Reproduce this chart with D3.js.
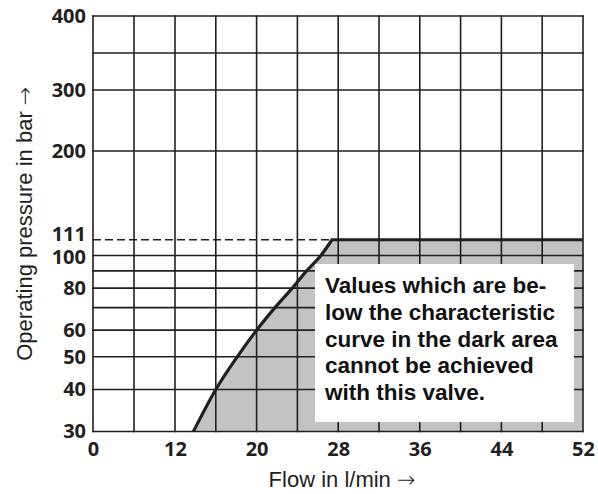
<!DOCTYPE html>
<html><head><meta charset="utf-8">
<script src="https://cdn.jsdelivr.net/npm/d3@7"></script>
<style>
html,body{margin:0;padding:0;background:#fff;}
svg{display:block;}
</style></head><body>
<svg id="chart" width="598" height="494"></svg>
<script>
// ---- data ----
const xTickValues = [0, 12, 20, 28, 36, 44, 52];
const xGridValues = [0, 6, 12, 16, 20, 24, 28, 32, 36, 40, 44, 48, 52];
const yTickValues = [30, 40, 50, 60, 80, 100, 111, 200, 300, 400];
const yGridValues = [30, 40, 50, 60, 70, 80, 90, 100, 200, 300, 350, 400];
const limitPressure = 111;
const maxFlow = 52;
const curvePressure = [30, 40, 50, 60, 70, 80, 90, 100, 111];
const curveFlow = [13.8, 16.0, 18.1, 20.0, 21.8, 23.5, 24.9, 26.3, 27.4];
const noteLines = ["Values which are be-", "low the characteristic", "curve in the dark area", "cannot be achieved", "with this valve."];
const xTitle = "Flow in l/min";
const yTitle = "Operating pressure in bar";
const arrow = "\u2192";

// ---- layout ----
const L = 93, R = 583, T = 16, B = 431.5;
const pw = R - L, ph = B - T;
const ink = "#231f20";
const svg = d3.select("#chart");

const x = d3.scaleLinear().domain([0, 12, 52]).range([L, L + pw * 82 / 490, R]);
const y = d3.scaleLog().domain([30, 100, 300, 350, 400])
  .range([B, B - ph * 0.4236, B - ph * 0.822, B - ph * 0.911, T]);

const curvePts = curvePressure.map((p, i) => ({q: curveFlow[i], p: p}));
const lineGen = d3.line().x(d => x(d.q)).y(d => y(d.p)).curve(d3.curveMonotoneX);
const curvePath = lineGen(curvePts);

// shaded region
svg.append("path")
  .attr("d", curvePath + `L${x(maxFlow)},${y(limitPressure)}L${x(maxFlow)},${y(30)}L${x(curveFlow[0])},${y(30)}Z`)
  .attr("fill", "#c2c3c5");

// grid
const grid = svg.append("g").attr("stroke", ink).attr("stroke-width", 1.6);
grid.selectAll("line.v").data(xGridValues).join("line").attr("class", "v")
  .attr("x1", d => x(d)).attr("x2", d => x(d)).attr("y1", T - 0.8).attr("y2", B + 0.8);
grid.selectAll("line.h").data(yGridValues).join("line").attr("class", "h")
  .attr("x1", L - 0.8).attr("x2", R + 0.8).attr("y1", d => y(d)).attr("y2", d => y(d));

// dashed limit line
svg.append("line")
  .attr("x1", x(0)).attr("x2", x(curveFlow[curveFlow.length - 1]))
  .attr("y1", y(limitPressure)).attr("y2", y(limitPressure))
  .attr("stroke", ink).attr("stroke-width", 1.3).attr("stroke-dasharray", "8,4");

// characteristic curve
svg.append("path")
  .attr("d", curvePath + `L${x(maxFlow)},${y(limitPressure)}`)
  .attr("fill", "none").attr("stroke", ink).attr("stroke-width", 3.2)
  .attr("stroke-linejoin", "miter");

// note box
svg.append("rect").attr("x", 315).attr("y", 264).attr("width", 259).attr("height", 158).attr("fill", "#fff");
svg.append("g").selectAll("text").data(noteLines).join("text")
  .attr("x", 325).attr("y", (d, i) => 293.3 + i * 26.7)
  .attr("font-family", "'Liberation Sans', Arial, sans-serif")
  .attr("font-weight", "bold").attr("font-size", 22.5).attr("fill", "#111")
  .text(d => d);

// axes
const tickFont = "'Open Sans', 'Noto Sans', sans-serif";
const gx = svg.append("g").attr("transform", `translate(0,${B})`)
  .call(d3.axisBottom(x).tickValues(xTickValues).tickSize(0).tickPadding(10));
gx.select(".domain").remove();
gx.selectAll("text").attr("font-family", tickFont).attr("font-weight", 700)
  .attr("font-size", 20).attr("fill", ink);

const gy = svg.append("g").attr("transform", `translate(${L},0)`)
  .call(d3.axisLeft(y).tickValues(yTickValues).tickSize(0).tickPadding(7).tickFormat(d3.format("d")));
gy.select(".domain").remove();
gy.selectAll("text").attr("font-family", tickFont).attr("font-weight", 700)
  .attr("font-size", 20).attr("fill", ink)
  .attr("dy", d => d === limitPressure ? "0.06em" : (d === 100 ? "0.38em" : "0.32em"));

// titles
function titleText(sel, label) {
  sel.attr("font-family", "'Liberation Sans', Arial, sans-serif").attr("font-size", 22).attr("fill", ink)
    .attr("text-anchor", "middle");
  sel.append("tspan").text(label + " ");
  sel.append("tspan").attr("font-family", "'DejaVu Sans', sans-serif").attr("font-weight", 300).text(arrow);
}
svg.append("text").attr("x", 342).attr("y", 487).call(titleText, xTitle);
svg.append("text").attr("transform", `translate(32,${(T + B) / 2}) rotate(-90)`).call(titleText, yTitle);
</script>
</body></html>
